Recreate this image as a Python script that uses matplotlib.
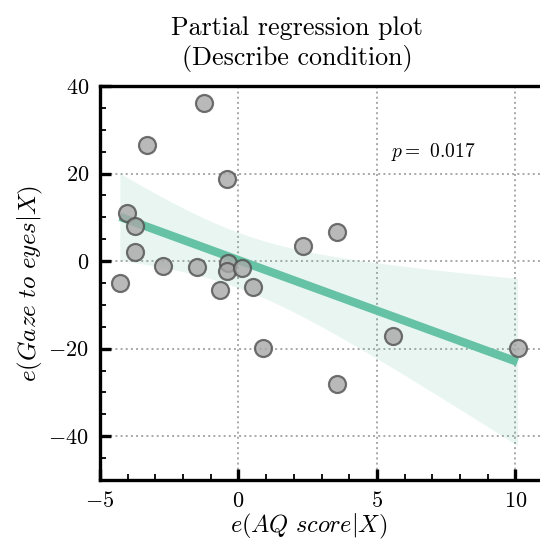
import numpy as np
import matplotlib
matplotlib.use("Agg")
import matplotlib.pyplot as plt
from matplotlib.ticker import MultipleLocator

# data
aq_resid = [-1.26, -3.32, -0.43, -4.02, -3.74, -3.72, -2.72, -1.49, -0.39, -0.41,
            0.13, -4.28, -0.67, 0.52, 2.33, 3.56, 0.89, 3.56, 5.57, 10.08]
gaze_resid = [36.2, 26.5, 18.7, 11.1, 8.1, 2.1, -1.1, -1.3, -0.4, -2.2,
              -1.5, -4.9, -6.5, -6.0, 3.5, 6.7, -19.8, -28.0, -17.2, -19.8]
p_text = r"$p=$ 0.017"
title = "Partial regression plot\n(Describe condition)"
xlabel = r"$e(AQ\ score|X)$"
ylabel = r"$e(Gaze\ to\ eyes|X)$"
xticks = [-5, 0, 5, 10]
yticks = [-40, -20, 0, 20, 40]

plt.rcParams['font.family'] = 'serif'
plt.rcParams['font.serif'] = ['cmr10']
plt.rcParams['mathtext.fontset'] = 'cm'
plt.rcParams['axes.formatter.use_mathtext'] = True
plt.rcParams['axes.unicode_minus'] = True

x = np.array(aq_resid)
y = np.array(gaze_resid)

fig = plt.figure(figsize=(5.4, 5.44), dpi=100)
ax = fig.add_axes([100/540, (544-480)/544, 443/540, (480-86)/544])

# regression + analytic 95% CI
n = len(x)
b, a = np.polyfit(x, y, 1)
xs = np.linspace(x.min(), x.max(), 100)
ys = a + b * xs
resid = y - (a + b * x)
s = np.sqrt(np.sum(resid**2) / (n - 2))
se = s * np.sqrt(1/n + (xs - x.mean())**2 / np.sum((x - x.mean())**2))
t = 2.101
col = '#66c2a5'
ax.fill_between(xs, ys - t*se, ys + t*se, color=col, alpha=0.15, lw=0, zorder=1)
ax.plot(xs, ys, color=col, lw=6, zorder=2, solid_capstyle='butt')
ax.scatter(x, y, s=150, facecolor='#a8a8a8', edgecolor='#505050', linewidth=1.6,
           alpha=0.8, zorder=3)

ax.text(5.5, 25, p_text, fontsize=14, va='center', ha='left')

ax.set_xlim(-5, 11)
ax.set_ylim(-50, 40)
ax.set_xticks(xticks)
ax.set_yticks(yticks)
ax.xaxis.set_minor_locator(MultipleLocator(1))
ax.yaxis.set_minor_locator(MultipleLocator(5))
ax.grid(True, which='major', linestyle=':', color='#a8a8a8', linewidth=1.4, zorder=0)
ax.set_axisbelow(True)
ax.tick_params(which='major', direction='in', length=8, width=2.4, labelsize=16, pad=8)
ax.tick_params(which='minor', direction='in', length=4.5, width=1.3)
ax.tick_params(top=False, right=False, which='both')
for sp in ax.spines.values():
    sp.set_linewidth(2.4)

ax.set_title(title, fontsize=18.7, pad=15, linespacing=1.25, x=0.445)
ax.set_xlabel(xlabel, fontsize=17.5)
ax.xaxis.set_label_coords(0.47, -0.082)
ax.set_ylabel(ylabel, fontsize=18, labelpad=2)

fig.savefig("out.png", dpi=100)
